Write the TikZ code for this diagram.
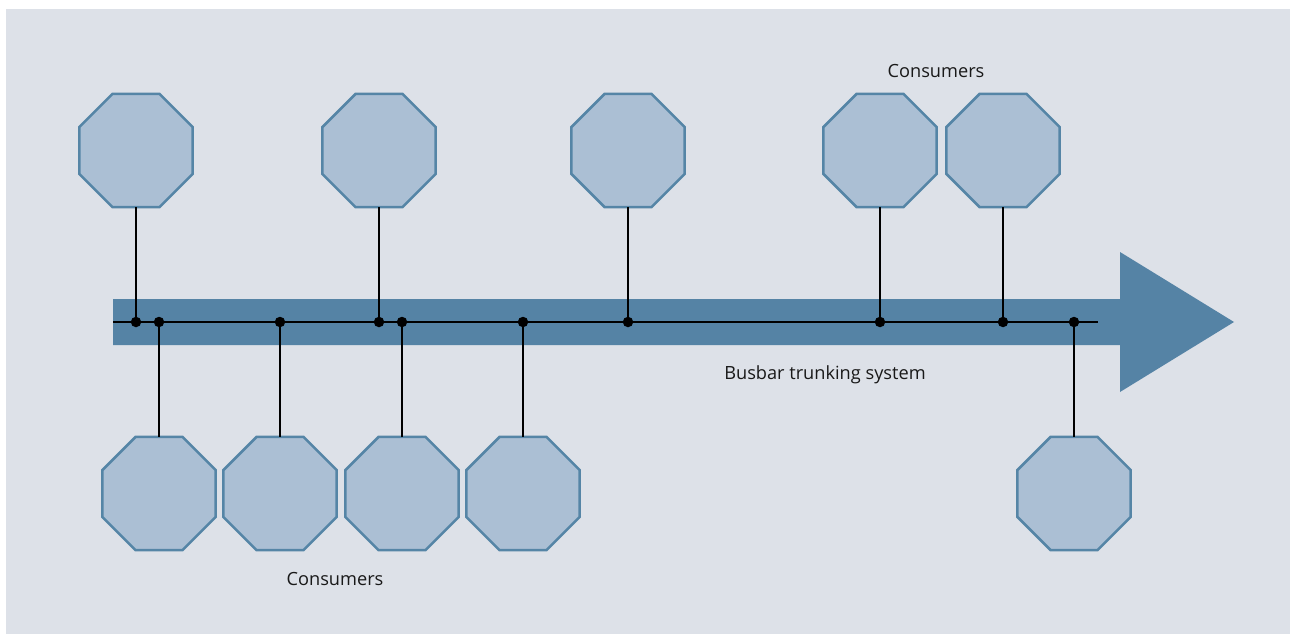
\documentclass[tikz,border=0pt]{standalone}
\usepackage{fontspec}
\setmainfont{Open Sans}
\usetikzlibrary{shapes.geometric}
\definecolor{bg}{HTML}{DDE1E8}
\definecolor{octfill}{HTML}{ABBFD4}
\definecolor{octline}{HTML}{5585A6}
\definecolor{busblue}{HTML}{5583A5}
\tikzset{
  consumer/.style={regular polygon, regular polygon sides=8, minimum size=122.5pt, inner sep=0pt, outer sep=0pt, draw=octline, fill=octfill, line width=2.5pt},
  tap/.style={circle, fill=black, inner sep=0pt, minimum size=10.5pt},
  wire/.style={line width=1.6pt, black},
  lbl/.style={font=\fontsize{18.2}{21}\selectfont, text=black!90, inner sep=0pt}
}
\begin{document}
\begin{tikzpicture}[x=1pt,y=-1pt]
\useasboundingbox (0,0) rectangle (1292,634);
\fill[white] (0,0) rectangle (1292,634);
\fill[bg] (6,9) rectangle (1290,634);
% busbar arrow
\fill[busblue] (113,299) -- (1120,299) -- (1120,252) -- (1234,322) -- (1120,392) -- (1120,345) -- (113,345) -- cycle;
\coordinate (busL) at (113,322);
\coordinate (busR) at (1098,322);
\draw[wire, line width=2pt] (busL) -- (busR);
% taps
\foreach \n/\x in {t1/136,b1/159,b2/280,t2/379,b3/402,b4/523,t3/628,t4/880,t5/1003,b5/1074}{
  \coordinate (d\n) at (\x,322);
}
% top consumers
\foreach \n/\x in {t1/136,t2/379,t3/628,t4/880,t5/1003}{
  \node[consumer] (c\n) at (\x,150.5) {};
  \draw[wire] (c\n.south) -- (d\n);
}
% bottom consumers
\foreach \n/\x in {b1/159,b2/280,b3/402,b4/523,b5/1074}{
  \node[consumer] (c\n) at (\x,493.5) {};
  \draw[wire] (c\n.north) -- (d\n);
}
\foreach \n in {t1,b1,b2,t2,b3,b4,t3,t4,t5,b5}{\node[tap] (p\n) at (d\n) {};}
\node[lbl] (ltop) at (936,71) {Consumers};
\node[lbl] (lbot) at (335,579) {Consumers};
\node[lbl] (lbus) at (825,375) {Busbar trunking system};
\end{tikzpicture}
\end{document}
